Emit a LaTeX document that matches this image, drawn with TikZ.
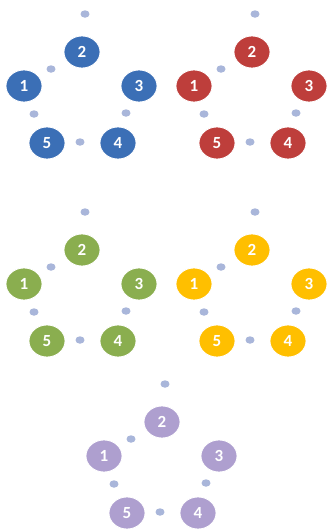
\documentclass[tikz,border=0pt]{standalone}
\usepackage{fontspec}
\setmainfont{Carlito}
\usetikzlibrary{shapes.geometric}
\definecolor{cblue}{HTML}{3B6FB6}
\definecolor{cred}{HTML}{BE3E3B}
\definecolor{cgreen}{HTML}{8AAE4F}
\definecolor{cyellow}{HTML}{FFBF00}
\definecolor{cpurple}{HTML}{AE9FCF}
\definecolor{cdot}{HTML}{A9B6DA}
\tikzset{
  ball/.style={ellipse, minimum width=36pt, minimum height=32pt, inner sep=0pt,
    fill=#1, draw=white, line width=0.8pt, text=white, font=\fontsize{17}{17}\selectfont\bfseries},
  dotnode/.style={ellipse, minimum width=9pt, minimum height=7.5pt, inner sep=0pt, fill=cdot, draw=none}
}
\newcommand\ringgroup[4]{%
  \begin{scope}[shift={(#1,#2)}]
    \node[dotnode] (#3t) at (3,-38) {};
    \node[ball=#4] (#32) at (0,0) {2};
    \node[ball=#4] (#31) at (-58,34) {1};
    \node[ball=#4] (#33) at (57,34) {3};
    \node[ball=#4] (#35) at (-35,91) {5};
    \node[ball=#4] (#34) at (36,91) {4};
    \node[dotnode] (#3a) at (-31,17) {};
    \node[dotnode] (#3b) at (-48,62) {};
    \node[dotnode] (#3c) at (-2,90) {};
    \node[dotnode] (#3d) at (44,61) {};
  \end{scope}}
\begin{document}
\begin{tikzpicture}[x=1pt,y=-1pt]
\useasboundingbox (0,0) rectangle (331,531);
\ringgroup{82}{52}{b}{cblue}
\ringgroup{252}{52}{r}{cred}
\ringgroup{82}{250}{g}{cgreen}
\ringgroup{252}{250}{y}{cyellow}
\ringgroup{162}{422}{p}{cpurple}
\end{tikzpicture}
\end{document}
